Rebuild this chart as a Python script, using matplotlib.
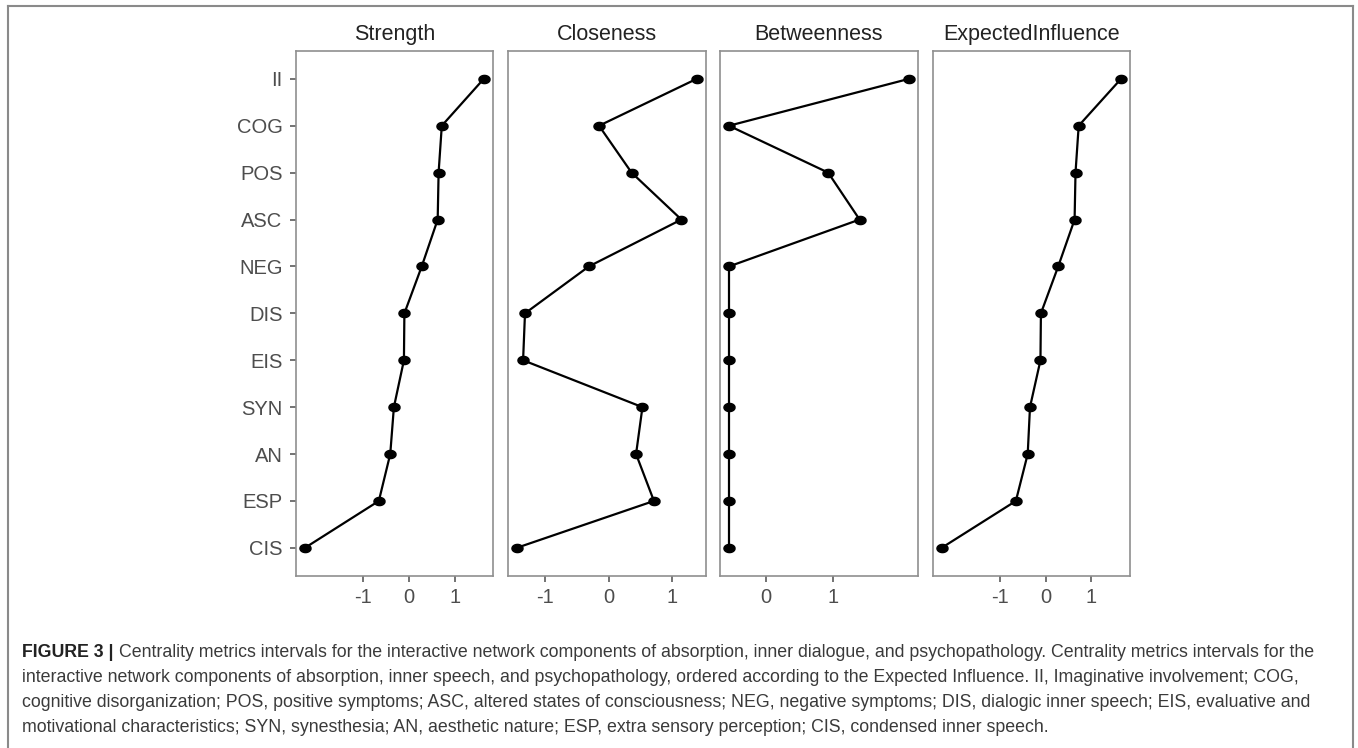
import numpy as np
import matplotlib
matplotlib.use("Agg")
import matplotlib.pyplot as plt
from matplotlib.path import Path
from matplotlib.lines import Line2D

plt.rcParams["font.family"] = ["Liberation Sans", "DejaVu Sans"]

# nodes, top to bottom (ordered by expected influence)
nodes = ["II", "COG", "POS", "ASC", "NEG", "DIS", "EIS", "SYN", "AN", "ESP", "CIS"]

metrics = ["Strength", "Closeness", "Betweenness", "ExpectedInfluence"]

strength = [1.64, 0.72, 0.65, 0.63, 0.28, -0.10, -0.11, -0.33, -0.41, -0.66, -2.28]
closeness = [1.38, -0.15, 0.36, 1.14, -0.31, -1.31, -1.34, 0.53, 0.43, 0.71, -1.44]
betweenness = [2.14, -0.555, 0.93, 1.40, -0.555, -0.555, -0.555, -0.555, -0.555, -0.555, -0.555]
expected_influence = [1.65, 0.72, 0.65, 0.63, 0.27, -0.11, -0.12, -0.35, -0.40, -0.66, -2.29]

xticks = {
    "Strength": [-1, 0, 1],
    "Closeness": [-1, 0, 1],
    "Betweenness": [0, 1],
    "ExpectedInfluence": [-1, 0, 1],
}

caption_lines = [
    "Centrality metrics intervals for the interactive network components of absorption, inner dialogue, and psychopathology. Centrality metrics intervals for the",
    "interactive network components of absorption, inner speech, and psychopathology, ordered according to the Expected Influence. II, Imaginative involvement; COG,",
    "cognitive disorganization; POS, positive symptoms; ASC, altered states of consciousness; NEG, negative symptoms; DIS, dialogic inner speech; EIS, evaluative and",
    "motivational characteristics; SYN, synesthesia; AN, aesthetic nature; ESP, extra sensory perception; CIS, condensed inner speech.",
]

values = [strength, closeness, betweenness, expected_influence]

W, H = 1358, 748
fig = plt.figure(figsize=(W / 100, H / 100), dpi=100)
fig.patch.set_facecolor("white")

# slightly wide dot, like the stretched original
t = np.linspace(0, 2 * np.pi, 40)
dot = Path(np.column_stack([1.35 * np.cos(t), np.sin(t)]))

panel_px = [(296, 492.7), (507.7, 705.7), (720, 918), (932.7, 1130)]
top_px, bot_px = 50.7, 576

border_col = "#8f8f8f"
tick_col = "#4d4d4d"

y = np.arange(len(nodes))[::-1]

for i, (name, vals) in enumerate(zip(metrics, values)):
    x0, x1 = panel_px[i]
    ax = fig.add_axes([x0 / W, 1 - bot_px / H, (x1 - x0) / W, (bot_px - top_px) / H])
    ax.plot(vals, y, color="black", lw=1.6, marker=dot, markersize=8,
            markerfacecolor="black", markeredgecolor="black")
    vmin, vmax = min(vals), max(vals)
    pad = 0.05 * (vmax - vmin)
    ax.set_xlim(vmin - pad, vmax + pad)
    ax.set_ylim(-0.6, len(nodes) - 0.4)
    ax.set_xticks(xticks[name])
    ax.set_xticklabels([str(v) for v in xticks[name]])
    ax.tick_params(axis="x", length=4, width=1.1, color=tick_col, pad=4.5,
                   labelsize=14.5, labelcolor=tick_col)
    if i == 0:
        ax.set_yticks(y)
        ax.set_yticklabels(nodes)
        ax.tick_params(axis="y", length=4.3, width=1.1, color=tick_col, pad=5.5,
                       labelsize=14.5, labelcolor=tick_col)
    else:
        ax.set_yticks([])
    for s in ax.spines.values():
        s.set_color(border_col)
        s.set_linewidth(1.2)
    ax.set_title(name, fontsize=15.5, color="#222222", pad=8)

# outer frame of the figure box
frame_col = "#8a8a8a"
fl, fr, ft = 7.5 / W, 1353 / W, 1 - 6.3 / H
fig.add_artist(Line2D([fl, fl], [0, ft], color=frame_col, lw=1.5))
fig.add_artist(Line2D([fl, fr], [ft, ft], color=frame_col, lw=1.5))
fig.add_artist(Line2D([fr, fr], [0, ft], color=frame_col, lw=1.5))

# caption
cap_size = 12.8
cap_col = "#3a3a3a"
cx = 22 / W
base = [656.7, 681.7, 706.7, 731.7]
head = fig.text(cx, 1 - base[0] / H, "FIGURE 3 |", fontsize=cap_size, fontweight="bold",
                color="#222222", va="baseline")
plt.annotate(caption_lines[0], xy=(1, 0), xycoords=head, xytext=(4, 0),
             textcoords="offset points", fontsize=cap_size, color=cap_col, va="bottom")
for k in range(1, 4):
    fig.text(cx, 1 - base[k] / H, caption_lines[k], fontsize=cap_size, color=cap_col,
             va="baseline")

fig.savefig("out.png", dpi=100)
